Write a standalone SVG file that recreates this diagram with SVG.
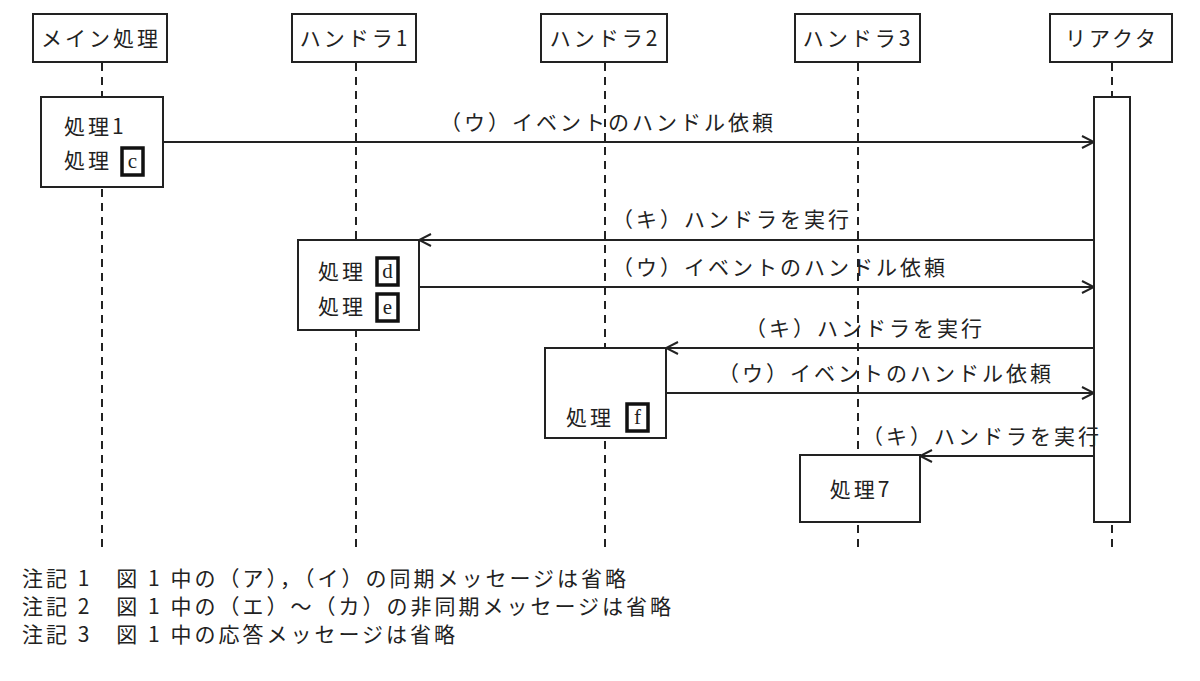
<svg xmlns="http://www.w3.org/2000/svg" width="1200" height="681" viewBox="0 0 1200 681">
<style>
text{font-family:"Noto Sans CJK JP","Liberation Serif",sans-serif;font-size:21px;letter-spacing:3px;fill:#222}
.b{fill:#fff;stroke:#222;stroke-width:2}
.k{fill:#fff;stroke:#111;stroke-width:3.5}
.ll{stroke:#222;stroke-width:2;stroke-dasharray:8,6}
.m{stroke:#222;stroke-width:2;fill:none}
.c{text-anchor:middle}
.l{font-family:"Liberation Serif",serif;letter-spacing:0}
</style>
<defs><marker id="a" markerWidth="14" markerHeight="14" refX="13" refY="7" orient="auto" markerUnits="userSpaceOnUse"><path d="M1,1 L13,7 L1,13" fill="none" stroke="#222" stroke-width="2"/></marker></defs>
<g id="lifelines">
<line class="ll" x1="102" y1="63" x2="102" y2="552"/>
<line class="ll" x1="356" y1="63" x2="356" y2="552"/>
<line class="ll" x1="605" y1="63" x2="605" y2="552"/>
<line class="ll" x1="858" y1="63" x2="858" y2="552"/>
<line class="ll" x1="1112" y1="63" x2="1112" y2="552"/>
</g>
<g id="main"><rect class="b" x="33" y="14" width="134" height="48"/><text class="c" x="101" y="46">メイン処理</text></g>
<g id="h1"><rect class="b" x="292" y="14" width="124" height="48"/><text class="c" x="355" y="46">ハンドラ1</text></g>
<g id="h2"><rect class="b" x="541" y="14" width="126" height="48"/><text class="c" x="605" y="46">ハンドラ2</text></g>
<g id="h3"><rect class="b" x="795" y="14" width="125" height="48"/><text class="c" x="858" y="46">ハンドラ3</text></g>
<g id="reactor"><rect class="b" x="1050" y="14" width="122" height="48"/><text class="c" x="1112" y="46">リアクタ</text></g>
<g id="reactor-bar"><rect class="b" x="1094" y="97" width="36" height="425"/></g>
<g id="act-main"><rect class="b" x="41" y="97" width="122" height="90"/>
<text x="64" y="134">処理1</text><text x="64" y="168">処理</text><rect class="k" x="122" y="148" width="21" height="27"/><text class="c l" x="132.5" y="168">c</text></g>
<g id="act-h1"><rect class="b" x="298" y="240" width="121" height="90"/>
<text x="318" y="279">処理</text><rect class="k" x="377" y="258" width="21" height="27"/><text class="c l" x="387.5" y="278">d</text>
<text x="318" y="314">処理</text><rect class="k" x="377" y="294" width="21" height="27"/><text class="c l" x="387.5" y="314">e</text></g>
<g id="act-h2"><rect class="b" x="545" y="348" width="121" height="90"/>
<text x="566" y="425">処理</text><rect class="k" x="627" y="404" width="21" height="27"/><text class="c l" x="637.5" y="424">f</text></g>
<g id="act-h3"><rect class="b" x="800" y="455" width="120" height="67"/><text class="c" x="861" y="497">処理7</text></g>
<g id="connectors">
<line class="m" x1="163" y1="142" x2="1094" y2="142" marker-end="url(#a)"/>
<line class="m" x1="1094" y1="240" x2="419" y2="240" marker-end="url(#a)"/>
<line class="m" x1="419" y1="287" x2="1094" y2="287" marker-end="url(#a)"/>
<line class="m" x1="1094" y1="348" x2="666" y2="348" marker-end="url(#a)"/>
<line class="m" x1="666" y1="393" x2="1094" y2="393" marker-end="url(#a)"/>
<line class="m" x1="1094" y1="456" x2="920" y2="456" marker-end="url(#a)"/>
</g>
<g id="labels">
<text x="440" y="130">（ウ）イベントのハンドル依頼</text>
<text x="612" y="227">（キ）ハンドラを実行</text>
<text x="612" y="275">（ウ）イベントのハンドル依頼</text>
<text x="745" y="336">（キ）ハンドラを実行</text>
<text x="718" y="381">（ウ）イベントのハンドル依頼</text>
<text x="862" y="444">（キ）ハンドラを実行</text>
</g>
<g id="notes" style="font-size:19px;letter-spacing:2px">
<text x="22" y="586">注記 1　図 1 中の（ア），（イ）の同期メッセージは省略</text>
<text x="22" y="614">注記 2　図 1 中の（エ）～（カ）の非同期メッセージは省略</text>
<text x="22" y="642">注記 3　図 1 中の応答メッセージは省略</text>
</g>
</svg>
